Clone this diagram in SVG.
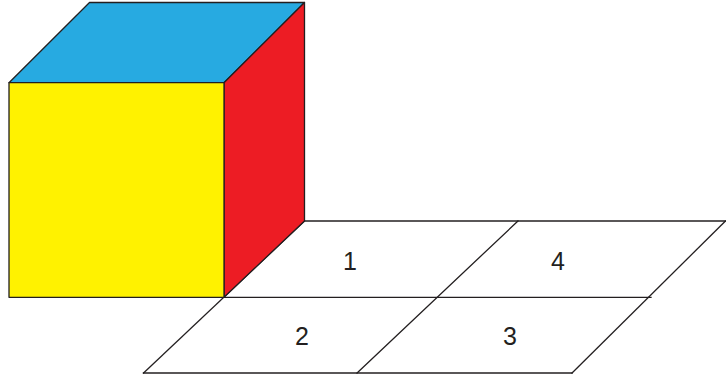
<svg xmlns="http://www.w3.org/2000/svg" width="726" height="380" viewBox="0 0 726 380">
  <style>
    .edge { stroke: #231f20; stroke-width: 1.3; stroke-linejoin: round; }
    .grid { fill: none; stroke: #231f20; stroke-width: 1.3; stroke-linecap: square; }
    .num { font-family: "Liberation Sans", Arial, sans-serif; font-size: 25px; fill: #231f20; text-anchor: middle; }
  </style>
  <rect width="726" height="380" fill="#ffffff"/>

  <!-- floor grid of four cells -->
  <g id="floor" class="grid">
    <line x1="304.5" y1="221" x2="725.5" y2="221"/>
    <line x1="224" y1="297.3" x2="651" y2="297.3"/>
    <line x1="143.5" y1="373" x2="572" y2="373"/>
    <line x1="304.5" y1="221" x2="143.5" y2="373"/>
    <line x1="518" y1="221" x2="357" y2="373"/>
    <line x1="725.5" y1="221" x2="572" y2="373"/>
  </g>

  <!-- cube -->
  <g id="cube">
    <polygon id="top" class="edge" fill="#27aae1" points="9,82.7 89.5,2.5 304.5,2.5 224,82.7"/>
    <polygon id="side" class="edge" fill="#ed1c24" points="224,82.7 304.5,2.5 304.5,221 224,297.3"/>
    <polygon id="front" class="edge" fill="#fff200" points="9,82.7 224,82.7 224,297.3 9,297.3"/>
  </g>

  <g id="cell-1"><text class="num" x="350" y="270">1</text></g>
  <g id="cell-4"><text class="num" x="558" y="270">4</text></g>
  <g id="cell-2"><text class="num" x="302" y="345">2</text></g>
  <g id="cell-3"><text class="num" x="510" y="345">3</text></g>
</svg>
